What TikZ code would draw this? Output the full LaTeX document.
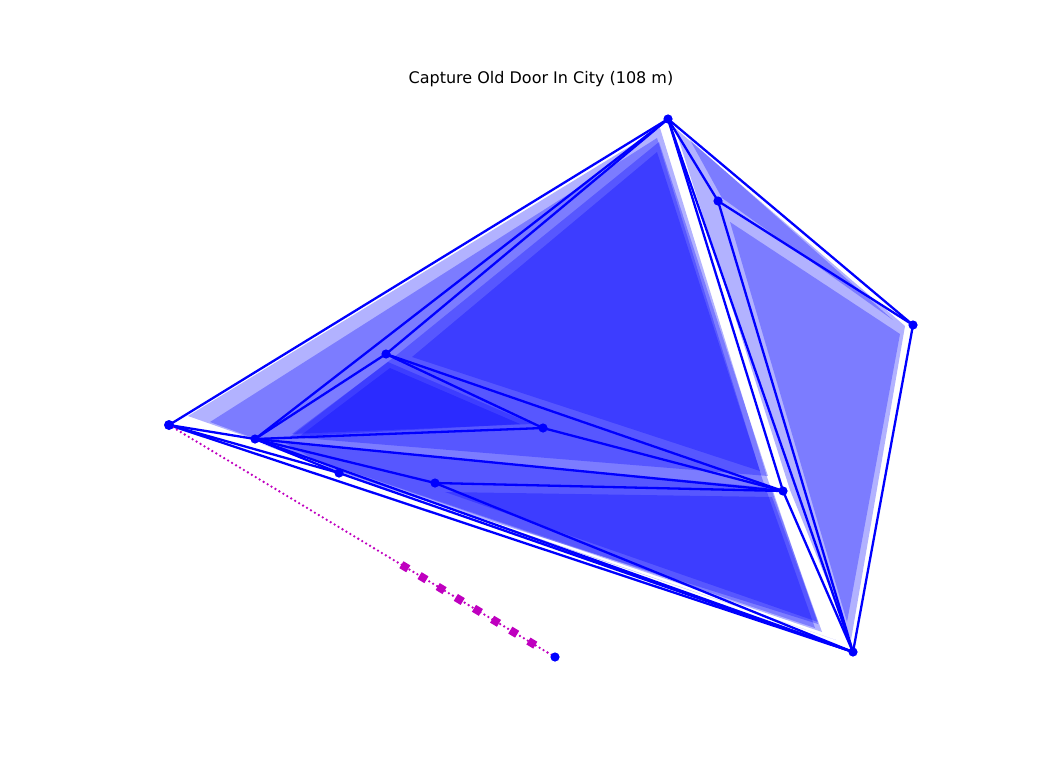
\documentclass[tikz,border=0pt]{standalone}
\usepackage{fontspec}
\setsansfont{DejaVu Sans}
\usepackage{xcolor}
\usepackage{tikz}
\usetikzlibrary{calc}
\definecolor{mesh}{RGB}{0,0,255}
\definecolor{track}{RGB}{191,0,191}
\tikzset{
  face/.style={fill=mesh, fill opacity=0.3, draw=none},
  edge/.style={draw=mesh, line width=2.3pt, line join=round},
  vtx/.style={fill=mesh},
  trk/.style={draw=track, line width=2.6pt, dash pattern=on 0pt off 4.6pt, line cap=round},
  mk/.style={fill=track, minimum size=8pt, inner sep=0pt, rotate=-31},
  ttl/.style={font=\sffamily\fontsize{16}{18}\selectfont},
}

\begin{document}
\begin{tikzpicture}[x=1pt,y=-1pt]
  \useasboundingbox (0,0) rectangle (1056,768);
  % mesh vertices (pixel positions)
  \coordinate (pA) at (169,425);
  \coordinate (pB) at (255,439);
  \coordinate (pC) at (386,354);
  \coordinate (pD) at (668,119);
  \coordinate (pE) at (718,201);
  \coordinate (pF) at (913,325);
  \coordinate (pG) at (853,652);
  \coordinate (pH) at (543,428);
  \coordinate (pI) at (783,491);
  \coordinate (pJ) at (339,473);
  \coordinate (pK) at (435,483);
  \coordinate (pL) at (555,657);

  % shrunken faces, stacked
  \path[face] (188,416) -- (660,128) -- (768,480) -- (822,632) -- (262,442) -- cycle;
  \path[face] (210,422) -- (657,138) -- (762,478) -- (815,628) -- (275,446) -- cycle;
  \path[face] (398,354) -- (659,142) -- (768,476) -- (290,437) -- cycle;
  \path[face] (412,357) -- (657,152) -- (760,471) -- cycle;
  \path[face] (292,434) -- (388,362) -- (532,424) -- cycle;
  \path[face] (300,436) -- (390,368) -- (520,424) -- cycle;
  \path[face] (285,443) -- (772,488) -- (818,624) -- (340,474) -- cycle;
  \path[face] (445,492) -- (772,497) -- (818,622) -- cycle;
  \path[face] (262,444) -- (836,640) -- (300,458) -- cycle;
  % right block
  \path[face] (675,128) -- (905,326) -- (851,640) -- (790,490) -- cycle;
  \path[face] (730,222) -- (900,334) -- (847,622) -- cycle;
  \path[face] (690,140) -- (722,198) -- (893,320) -- cycle;

  % edges
  \foreach \a/\b in {pA/pD, pA/pB, pA/pG, pA/pJ, pB/pD, pB/pC, pB/pH, pB/pI,
                     pB/pK, pB/pJ, pB/pG, pJ/pG, pK/pG, pK/pI, pC/pD, pC/pH,
                     pC/pI, pH/pI, pD/pI, pD/pG, pD/pE, pD/pF, pE/pF, pE/pG,
                     pF/pG, pI/pG}
    \draw[edge] (\a) -- (\b);

  % track to the target
  \draw[trk] (pA) -- (pL);
  \foreach \t [count=\i] in {0.611,0.658,0.705,0.752,0.799,0.846,0.893,0.940}
    \node[mk] (mk\i) at ($(pA)!\t!(pL)$) {};

  \foreach \p in {pB,pC,pD,pE,pF,pG,pH,pI,pJ,pK,pL}
    \fill[vtx] (\p) circle (4.6pt);
  \fill[vtx] (pA) circle (5pt);

  \node[ttl] (title) at (541,79) {Capture Old Door In City (108 m)};
\end{tikzpicture}
\end{document}
